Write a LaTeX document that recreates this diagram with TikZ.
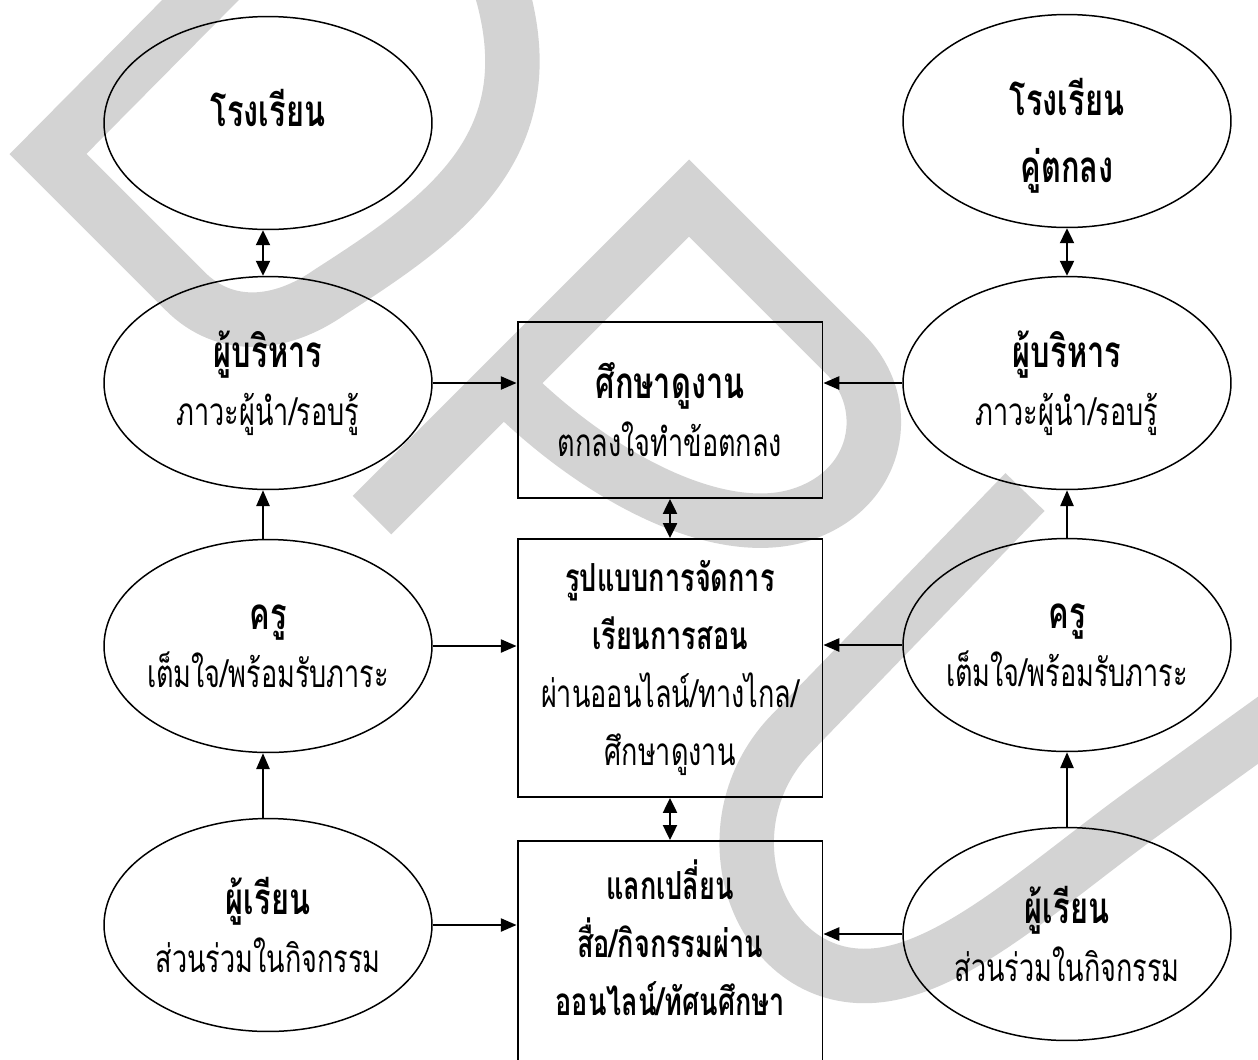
\documentclass[tikz,border=0pt]{standalone}
\usepackage{fontspec}
\newfontfamily\thai[Script=Thai,FakeStretch=0.7]{Loma}
\usetikzlibrary{positioning}
\usetikzlibrary{shapes.geometric}
\usetikzlibrary {arrows.meta}
\definecolor{wmgray}{RGB}{211,211,211}
\tikzset{actor/.style={ellipse,draw=black,line width=0.85pt,
inner xsep=-25pt,inner ysep=0pt,minimum width=6.56cm, minimum height=4.26cm,
align=center,font=\thai\fontsize{22}{33}\selectfont}}
\tikzset{stage/.style={rectangle,draw=black,line width=1.1pt,
inner sep=2pt,minimum width=6.1cm,align=center,font=\thai\fontsize{22}{33}\selectfont}}
\tikzset{stagetext/.style={align=center,font=\thai\fontsize{22}{33}\selectfont}}
\tikzset{flow/.style={line width=1.1pt,-{Triangle[length=9pt,width=7.5pt]}}}
\tikzset{link/.style={line width=1.1pt,{Triangle[length=8.5pt,width=8pt]}-{Triangle[length=8.5pt,width=8pt]}}}
\tikzset{wmband/.style={draw=wmgray,line width=31pt}}
\newcommand{\headtxt}[1]{{\bfseries\fontsize{25}{33}\selectfont #1}}

\begin{document}
\begin{tikzpicture}[x=0.02cm,y=-0.02cm]
        \useasboundingbox (0,0) rectangle (1258,1059);
        \clip (0,0) rectangle (1258,1059);

        % watermark
        \draw[wmband] (250,-50) -- (48,154) -- (185,291) .. controls (225,331) and (280,327) .. (330,292) .. controls (450,215) and (555,140) .. (495,-30);
        \draw[wmband] (372,515) -- (689,198) -- (845,354) .. controls (895,404) and (880,490) .. (800,515) .. controls (720,540) and (600,480) .. (505,385);
        \draw[wmband] (1025,492) -- (790,735) .. controls (700,830) and (760,990) .. (880,975) .. controls (960,965) and (1050,880) .. (1150,808) -- (1300,700);

        % middle column
        \node[stage, minimum height=3.52cm] (studyBox) at (670,410) {\headtxt{ศึกษาดูงาน}\\ ตกลงใจทำข้อตกลง};
        \node[stage, minimum height=5.16cm] (modelBox) at (670,668) {{\bfseries รูปแบบการจัดการ}\\ {\bfseries เรียนการสอน}\\ ผ่านออนไลน์/ทางไกล/\\ ศึกษาดูงาน};
        \node[stage, minimum height=5.4cm, anchor=north] (swapBox) at (670,840) {};
        \node[stagetext] (swapText) at (670,938) {{\bfseries แลกเปลี่ยน}\\ {\bfseries สื่อ/กิจกรรมผ่าน}\\ {\bfseries ออนไลน์/ทัศนศึกษา}};

        % left column
        \node[actor] (schoolA) at (268,123) {};
        \node[stagetext] (schoolA-txt) at (268,108) {\headtxt{โรงเรียน}};
        \node[actor] (adminA) at (268,383) {\headtxt{ผู้บริหาร}\\ ภาวะผู้นำ/รอบรู้};
        \node[actor] (teacherA) at (268,646) {\headtxt{ครู}\\ เต็มใจ/พร้อมรับภาระ};
        \node[actor] (learnerA) at (268,925) {\headtxt{ผู้เรียน}\\ ส่วนร่วมในกิจกรรม};

        % right column
        \node[actor] (schoolB) at (1067,121) {};
        \node[stagetext] (schoolB-txt) at (1067,136) {\headtxt{โรงเรียน}\\[5pt] \headtxt{คู่ตกลง}};
        \node[actor] (adminB) at (1067,383) {\headtxt{ผู้บริหาร}\\ ภาวะผู้นำ/รอบรู้};
        \node[actor] (teacherB) at (1067,645) {\headtxt{ครู}\\ เต็มใจ/พร้อมรับภาระ};
        \node[actor] (learnerB) at (1067,934) {\headtxt{ผู้เรียน}\\ ส่วนร่วมในกิจกรรม};

        \draw[link] ([xshift=-1mm]schoolA.south) -- ([xshift=-1mm]adminA.north);
        \draw[link] (schoolB) -- (adminB);
        \draw[flow] ([xshift=-1mm]teacherA.north) -- ([xshift=-1mm]adminA.south);
        \draw[flow] ([xshift=-1mm]learnerA.north) -- ([xshift=-1mm]teacherA.south);
        \draw[flow] (teacherB) -- (adminB);
        \draw[flow] (learnerB) -- (teacherB);

        \draw[flow] (adminA.east) -- (adminA.east -| studyBox.west);
        \draw[flow] (teacherA.east) -- (teacherA.east -| modelBox.west);
        \draw[flow] (learnerA.east) -- (learnerA.east -| swapBox.west);
        \draw[flow] (adminB.west) -- (adminB.west -| studyBox.east);
        \draw[flow] (teacherB.west) -- (teacherB.west -| modelBox.east);
        \draw[flow] (learnerB.west) -- (learnerB.west -| swapBox.east);

        \draw[link] (studyBox) -- (modelBox);
        \draw[link] (modelBox) -- (swapBox);

\end{tikzpicture}
\end{document}
